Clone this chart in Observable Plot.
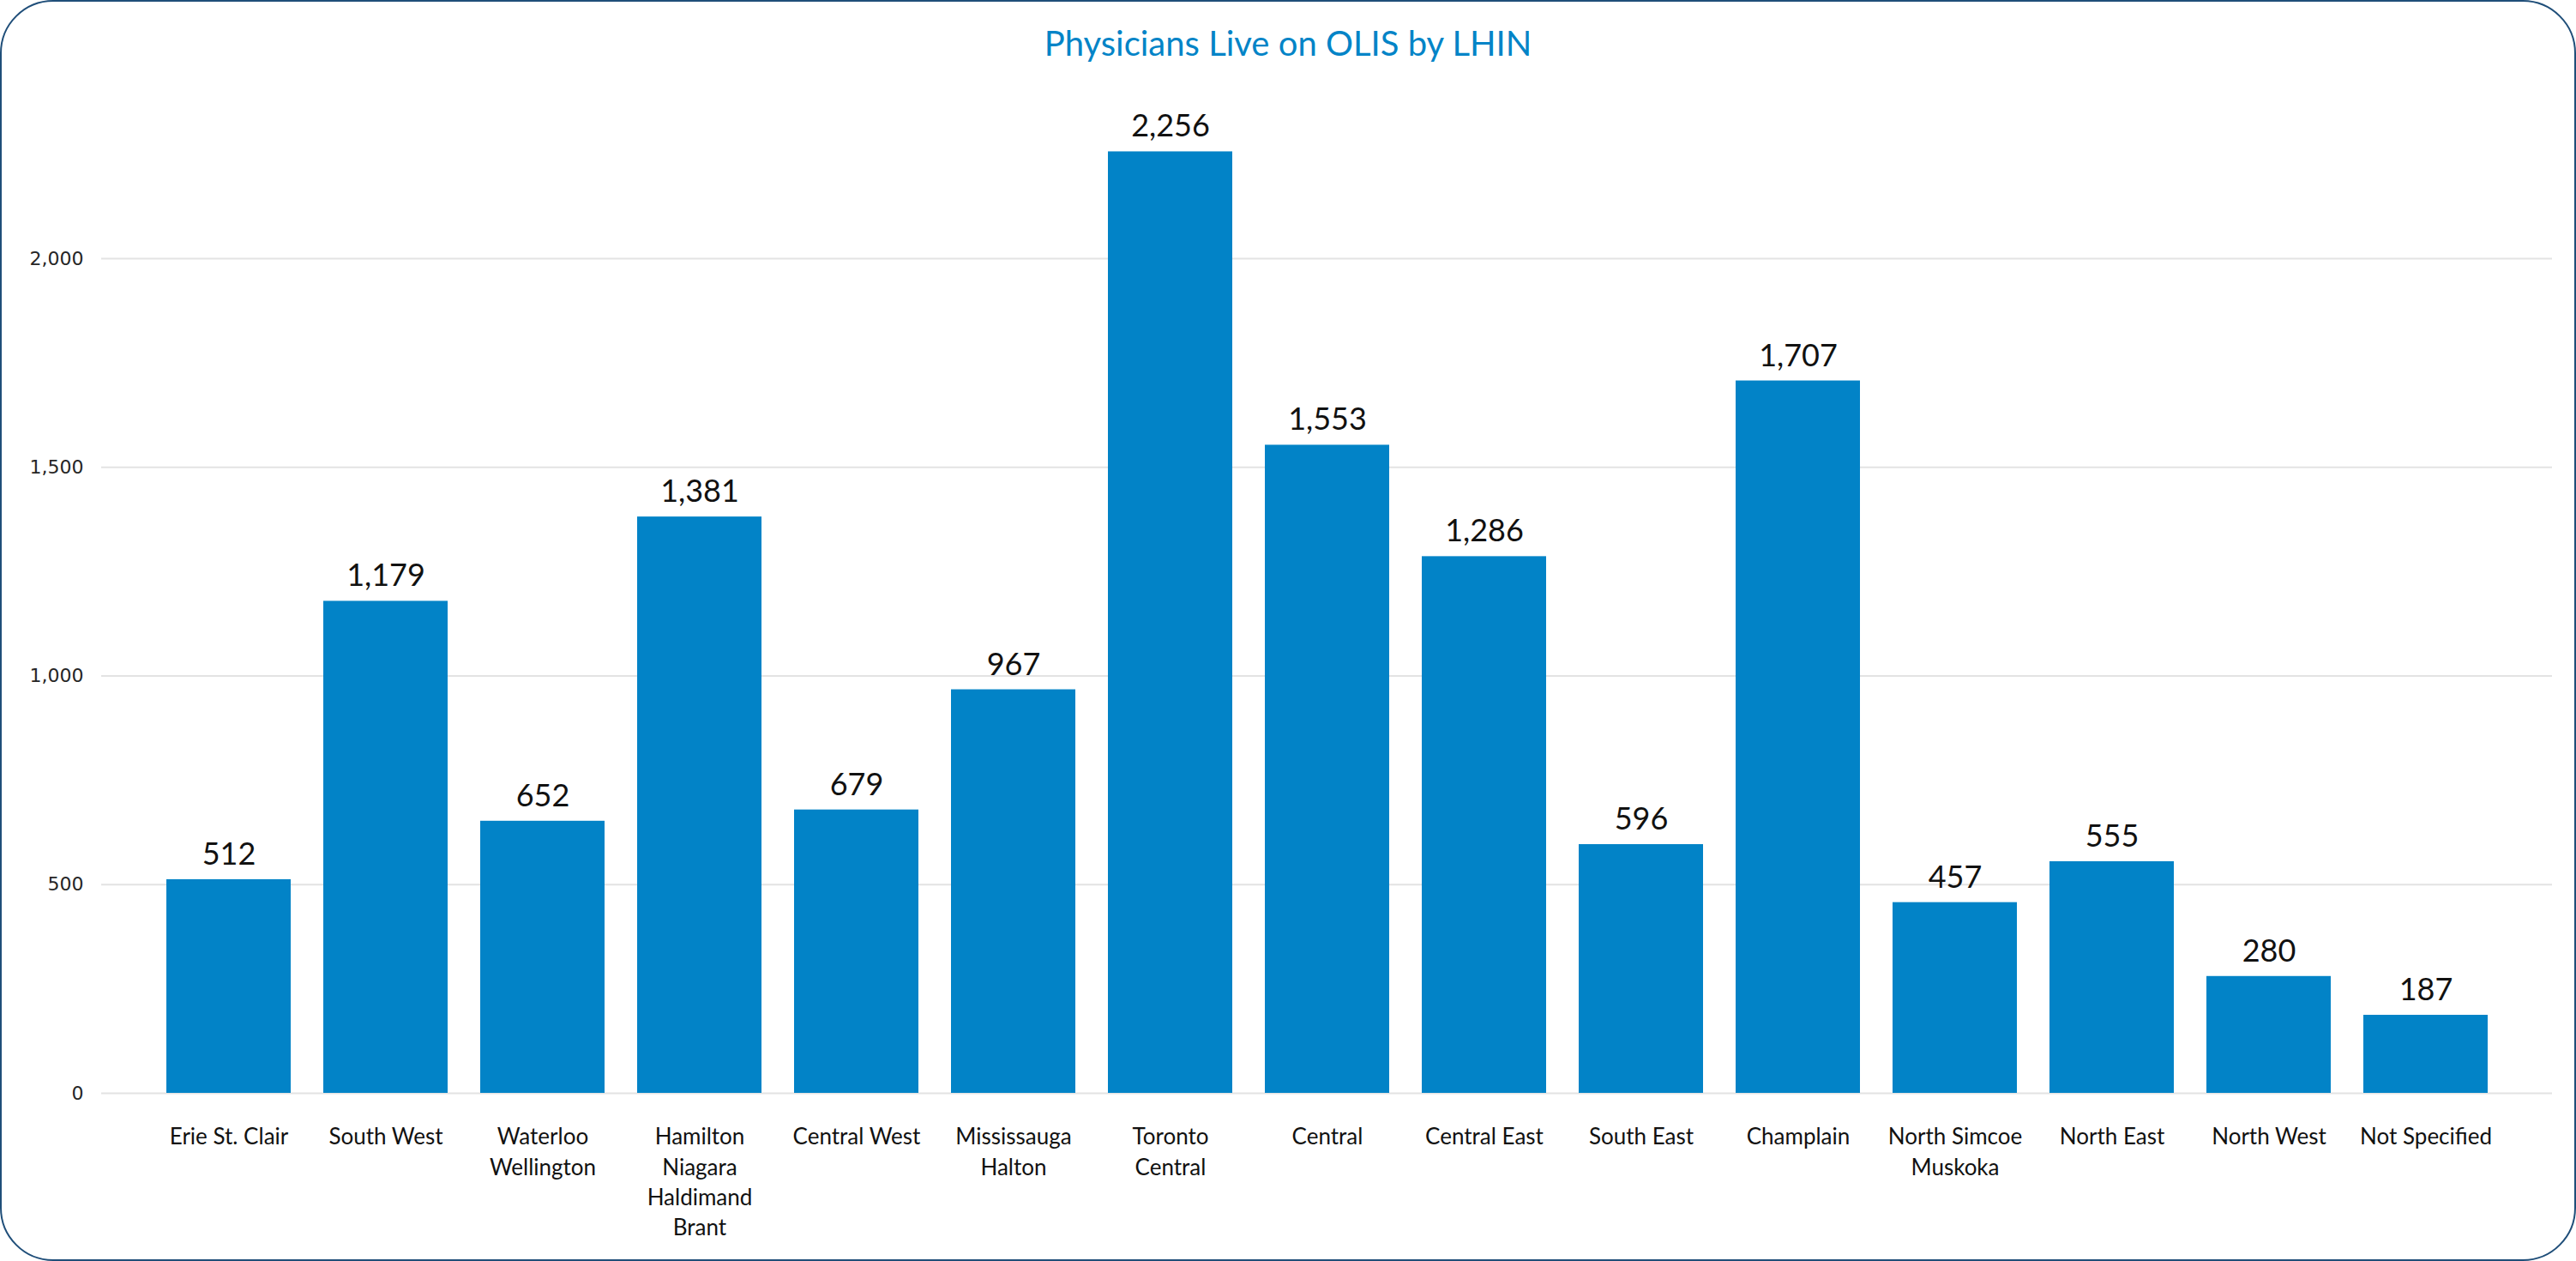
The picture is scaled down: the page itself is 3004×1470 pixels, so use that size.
<!DOCTYPE html>
<html><head><meta charset="utf-8">
<script src="https://cdn.jsdelivr.net/npm/d3@7"></script>
<script src="https://cdn.jsdelivr.net/npm/@observablehq/plot@0.6"></script>
<style>
html,body{margin:0;padding:0;background:#fff;}
#wrap{position:relative;width:3004px;height:1470px;overflow:hidden;background:#fff;}
#border{position:absolute;left:0;top:0;width:3004px;height:1470px;box-sizing:border-box;border:2px solid #1F4E79;border-radius:62px;pointer-events:none;}
#title{height:100px;box-sizing:border-box;padding-top:30px;line-height:40px;font-family:Lato,sans-serif;font-size:40px;color:#0284C7;text-align:center;}
#chart svg{display:block;}
</style>
</head><body>
<div id="wrap">
  <div id="title">Physicians Live on OLIS by LHIN</div>
  <div id="chart"></div>
  <div id="border"></div>
</div>
<script>
const categories = [
  "Erie St. Clair", "South West", "Waterloo\nWellington", "Hamilton\nNiagara\nHaldimand\nBrant",
  "Central West", "Mississauga\nHalton", "Toronto\nCentral", "Central", "Central East",
  "South East", "Champlain", "North Simcoe\nMuskoka", "North East", "North West", "Not Specified"
];
const physicians = [512, 1179, 652, 1381, 679, 967, 2256, 1553, 1286, 596, 1707, 457, 555, 280, 187];
const yTicks = [0, 500, 1000, 1500, 2000];

const data = categories.map((c, i) => ({category: c, value: physicians[i]}));
const fmt = d3.format(",");

const chart = Plot.plot({
  width: 3004,
  height: 1370,
  marginLeft: 118,
  marginRight: 28,
  marginTop: 6.4,
  marginBottom: 196,
  style: {background: "transparent", fontFamily: "Lato, sans-serif", overflow: "visible"},
  x: {domain: categories, paddingInner: 0.208, paddingOuter: 0.40, label: null},
  y: {domain: [0, 2400], label: null},
  marks: [
    Plot.gridY(yTicks, {stroke: "#e3e3e3", strokeOpacity: 1, strokeWidth: 2}),
    Plot.barY(data, {x: "category", y: "value", fill: "#0283C7"}),
    Plot.text(data, {x: "category", y: "value", text: d => fmt(d.value), lineAnchor: "middle", dy: -29, fontSize: 36, fill: "#111"}),
    Plot.axisY(yTicks, {tickSize: 0, tickPadding: 21, tickFormat: fmt, fontSize: 22, fontFamily: "DejaVu Sans", fill: "#262626", label: null}),
    Plot.axisX({tickSize: 0, tickPadding: 35, fontSize: 26, lineHeight: 1.35, fill: "#111", label: null})
  ]
});
document.getElementById("chart").appendChild(chart);
</script>
</body></html>
